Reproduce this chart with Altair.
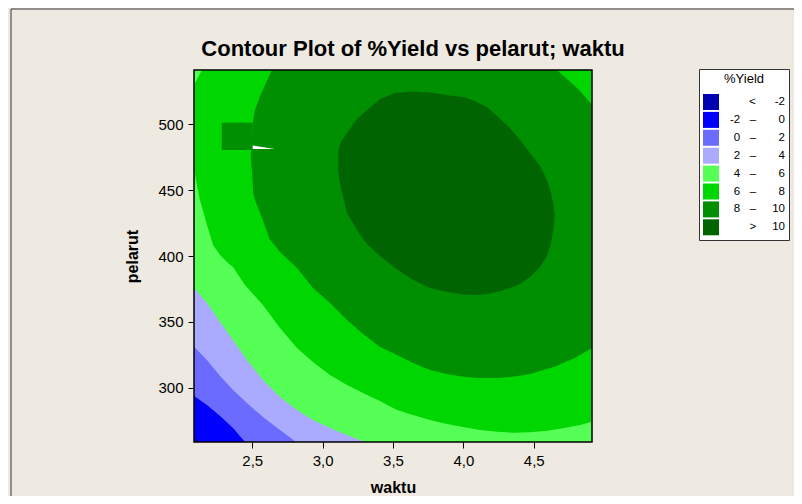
import altair as alt
import pandas as pd

# ---------------- data ----------------
X_DOMAIN = [2.0858, 4.9142]          # waktu
Y_DOMAIN = [258.58, 541.42]          # pelarut
X_TICKS = [2.5, 3.0, 3.5, 4.0, 4.5]
Y_TICKS = [300, 350, 400, 450, 500]

NB = "\u00a0"
BAND_LABELS = [
    "<" + NB * 6 + "-2" + NB,
    "-2" + NB * 3 + "\u2013" + NB * 7 + "0" + NB,
    "0" + NB * 3 + "\u2013" + NB * 7 + "2" + NB,
    "2" + NB * 3 + "\u2013" + NB * 7 + "4" + NB,
    "4" + NB * 3 + "\u2013" + NB * 7 + "6" + NB,
    "6" + NB * 3 + "\u2013" + NB * 7 + "8" + NB,
    "8" + NB * 3 + "\u2013" + NB * 5 + "10" + NB,
    ">" + NB * 5 + "10" + NB,
]
BAND_COLORS = ["#0000B0", "#0000FF", "#6B6BFF", "#AAAAFF",
               "#55FF55", "#00D600", "#008F00", "#006500"]

# region %Yield >= -2 (lower boundary)
lvm2_x = [2.086, 2.121, 4.914]
lvm2_lo = [262.4, 258.6, 258.6]

# region >= 0
lv0_x = [2.086, 2.178, 2.271, 2.363, 2.448, 4.914]
lv0_lo = [293.5, 286.7, 278.3, 269.2, 258.6, 258.6]

# region >= 2
lv2_x = [2.086, 2.178, 2.271, 2.363, 2.462, 2.576, 2.697, 2.811, 4.914]
lv2_lo = [331.0, 320.9, 308.8, 298.1, 288.2, 277.6, 267.7, 258.6, 258.6]

# region >= 4
lv4_x = [2.086, 2.178, 2.271, 2.363, 2.462, 2.576, 2.697, 2.818, 2.931,
         3.052, 3.173, 3.301, 4.914]
lv4_lo = [375.7, 364.3, 349.8, 336.1, 320.9, 305.7, 292.8, 282.9, 275.3,
          269.2, 263.9, 258.6, 258.6]

# region >= 6
lv6_x = [2.086, 2.128, 2.143, 2.178, 2.221, 2.271, 2.320, 2.363, 2.448,
         2.576, 2.697, 2.818, 2.931, 3.052, 3.173, 3.287, 3.408, 3.528,
         3.642, 3.763, 3.884, 3.998, 4.118, 4.239, 4.353, 4.474, 4.594,
         4.708, 4.829, 4.914]
lv6_lo = [465.4, 442.6, 437.0, 423.6, 408.4, 400.8, 395.4, 391.6, 378.0,
          362.7, 345.3, 330.0, 319.4, 309.5, 301.9, 295.8, 289.8, 282.9,
          279.1, 275.3, 272.3, 270.0, 267.7, 266.4, 265.6, 265.9, 267.2,
          269.0, 271.5, 274.0]
lv6_hi = [530.0, 538.6] + [541.42] * 28

# region >= 8
lv8_x = [2.490, 2.496, 2.507, 2.519, 2.555, 2.569, 2.626, 2.640, 2.697,
         2.818, 2.931, 3.052, 3.173, 3.287, 3.408, 3.528, 3.642, 3.763,
         3.884, 3.998, 4.118, 4.239, 4.353, 4.474, 4.594, 4.663, 4.708,
         4.793, 4.829, 4.914]
lv8_lo = [475.3, 466.9, 447.9, 442.6, 432.7, 428.9, 412.2, 410.6, 403.0,
          390.9, 375.7, 364.3, 351.3, 340.7, 330.8, 324.7, 318.6, 313.3,
          310.3, 308.2, 307.2, 307.2, 308.2, 310.3, 314.1, 316.3, 318.6,
          322.4, 324.7, 330.0]
lv8_hi = [478.3, 485.9, 503.4, 511.0, 521.6, 524.7, 538.4, 541.42, 541.42,
          541.42, 541.42, 541.42, 541.42, 541.42, 541.42, 541.42, 541.42,
          541.42, 541.42, 541.42, 541.42, 541.42, 541.42, 541.42, 541.42,
          541.42, 537.2, 529.3, 525.5, 514.8]

# region > 10
lv10_x = [3.111, 3.130, 3.173, 3.244, 3.315, 3.408, 3.514, 3.642, 3.763,
          3.884, 3.998, 4.083, 4.168, 4.239, 4.331, 4.403, 4.474, 4.545,
          4.594, 4.623, 4.641, 4.648]
lv10_lo = [463.9, 451.7, 432.7, 419.8, 409.1, 400.0, 390.9, 381.8, 375.7,
           372.6, 370.7, 370.3, 371.1, 372.6, 375.7, 378.7, 384.0, 391.6,
           400.0, 409.9, 421.3, 431.2]
lv10_hi = [480.6, 486.7, 493.5, 504.2, 511.0, 519.4, 523.9, 525.1, 524.3,
           522.4, 520.9, 517.9, 513.3, 506.4, 497.3, 488.2, 478.3, 468.4,
           457.8, 447.9, 438.8, 431.2]

# grid-cell artefact of the original plot
cell_x = [2.283, 2.503]
cell_y = [480.6, 501.4]
gap_x = [2.503, 2.661]
gap_lo = [481.3, 481.3]
gap_hi = [484.0, 481.3]

# ---------------- chart ----------------
FONT = "Liberation Sans"
xs = alt.Scale(domain=X_DOMAIN, nice=False, zero=False)
ys = alt.Scale(domain=Y_DOMAIN, nice=False, zero=False)
cs = alt.Scale(domain=BAND_LABELS, range=BAND_COLORS)

legend = alt.Legend(
    title="%Yield", orient="none", legendX=505, legendY=-1,
    symbolType="square", symbolSize=256, symbolStrokeWidth=0,
    labelAlign="right", labelOffset=66, labelFontSize=11.5, labelFont=FONT,
    labelColor="black", labelLimit=200,
    titleFontSize=13, titleFont=FONT, titleFontWeight="normal", titleColor="black",
    titleAnchor="middle", titlePadding=8, rowPadding=1.9,
    padding=4, strokeColor="#333333", fillColor="white",
)

x_axis = alt.Axis(
    values=X_TICKS, labelExpr="replace(format(datum.value, '.1f'), '.', ',')",
    title="waktu", titleX=199, titleY=45, titleBaseline="middle",
    grid=False, domain=False, tickColor="black", tickSize=6, tickWidth=1,
    labelFontSize=15, labelFont=FONT, labelColor="black", labelPadding=5,
    titleFontSize=16, titleFont=FONT, titleFontWeight="bold", titleColor="black",
)
y_axis = alt.Axis(
    values=Y_TICKS, title="pelarut", titleX=-62, titleY=186,
    titleBaseline="middle", titleAngle=270,
    grid=False, domain=False, tickColor="black", tickSize=6, tickWidth=1,
    labelFontSize=15, labelFont=FONT, labelColor="black", labelPadding=5,
    titleFontSize=16, titleFont=FONT, titleFontWeight="bold", titleColor="black",
)


def band(xv, lo, hi, label):
    df = pd.DataFrame({"x": xv, "lo": lo, "hi": hi, "band": label})
    return alt.Chart(df).mark_area(clip=True, orient="vertical").encode(
        x=alt.X("x:Q", scale=xs, axis=x_axis),
        y=alt.Y("lo:Q", scale=ys, axis=y_axis),
        y2="hi:Q",
        color=alt.Color("band:N", scale=cs, legend=legend),
    )


bg_df = pd.DataFrame({"x": [X_DOMAIN[0]], "x2": [X_DOMAIN[1]],
                      "y": [Y_DOMAIN[0]], "y2": [Y_DOMAIN[1]],
                      "band": [BAND_LABELS[0]]})
background = alt.Chart(bg_df).mark_rect().encode(
    x=alt.X("x:Q", scale=xs, axis=x_axis), x2="x2:Q",
    y=alt.Y("y:Q", scale=ys, axis=y_axis), y2="y2:Q",
    color=alt.Color("band:N", scale=cs, legend=legend),
)

TOP = Y_DOMAIN[1]
layers = [
    background,
    band(lvm2_x, lvm2_lo, [TOP] * len(lvm2_x), BAND_LABELS[1]),
    band(lv0_x, lv0_lo, [TOP] * len(lv0_x), BAND_LABELS[2]),
    band(lv2_x, lv2_lo, [TOP] * len(lv2_x), BAND_LABELS[3]),
    band(lv4_x, lv4_lo, [TOP] * len(lv4_x), BAND_LABELS[4]),
    band(lv6_x, lv6_lo, lv6_hi, BAND_LABELS[5]),
    band(lv8_x, lv8_lo, lv8_hi, BAND_LABELS[6]),
]

cell_df = pd.DataFrame({"x": [cell_x[0]], "x2": [cell_x[1]],
                        "y": [cell_y[0]], "y2": [cell_y[1]],
                        "band": [BAND_LABELS[6]]})
layers.append(alt.Chart(cell_df).mark_rect().encode(
    x="x:Q", x2="x2:Q", y="y:Q", y2="y2:Q",
    color=alt.Color("band:N", scale=cs, legend=legend),
))
layers.append(band(lv10_x, lv10_lo, lv10_hi, BAND_LABELS[7]))

gap_df = pd.DataFrame({"x": gap_x, "lo": gap_lo, "hi": gap_hi})
layers.append(alt.Chart(gap_df).mark_area(color="white", orient="vertical").encode(
    x="x:Q", y="lo:Q", y2="hi:Q"))

# plot frame
frame_df = pd.DataFrame({"x": [X_DOMAIN[0]], "x2": [X_DOMAIN[1]],
                         "y": [Y_DOMAIN[0]], "y2": [Y_DOMAIN[1]]})
layers.append(alt.Chart(frame_df).mark_rect(
    filled=False, stroke="black", strokeWidth=1.5).encode(
    x="x:Q", x2="x2:Q", y="y:Q", y2="y2:Q"))

# outer figure border (top and left edges visible in the original)
one = pd.DataFrame({"k": [0]})
layers.append(alt.Chart(one).mark_rule(color="#333333", strokeWidth=1).encode(
    x=alt.value(-183), x2=alt.value(620), y=alt.value(-61)))
layers.append(alt.Chart(one).mark_rule(color="#333333", strokeWidth=1).encode(
    x=alt.value(-183), y=alt.value(-61), y2=alt.value(440)))

chart = alt.layer(*layers).properties(
    width=398, height=372,
    title=alt.TitleParams(
        "Contour Plot of %Yield vs pelarut; waktu", font=FONT, fontSize=22,
        fontWeight="bold", color="black", anchor="middle", frame="group",
        baseline="alphabetic", offset=0, dx=20, dy=69.5),
    autosize=alt.AutoSizeParams(type="none"),
    padding={"left": 186, "top": 62, "right": 202, "bottom": 54},
    background="#EEEAE1",
).configure_view(stroke=None)

chart.save("out.html", embed_options={"renderer": "svg", "actions": False})
